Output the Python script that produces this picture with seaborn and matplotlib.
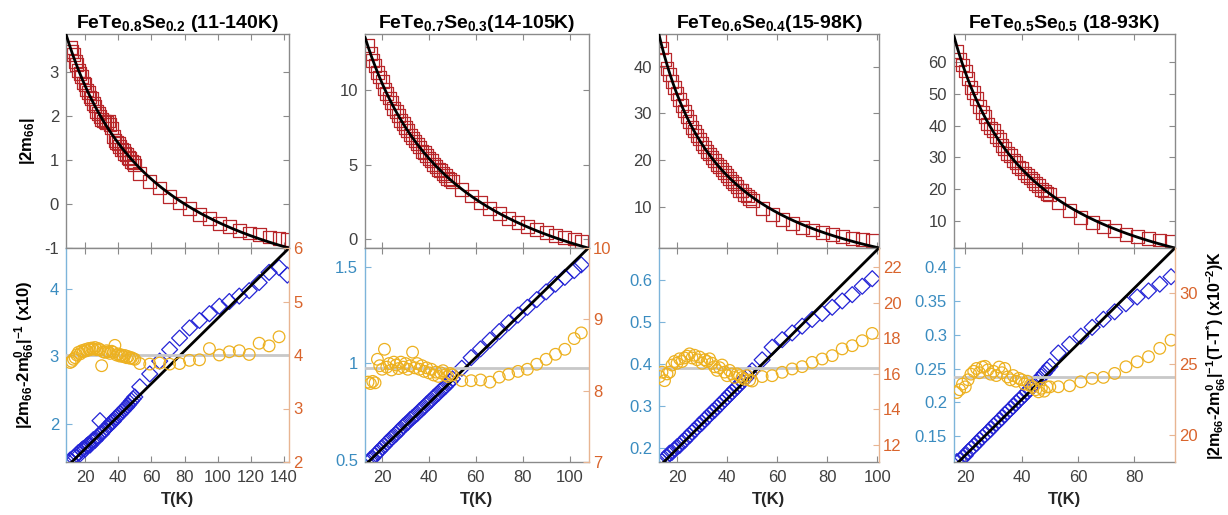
import numpy as np
import pandas as pd
import matplotlib
matplotlib.use("Agg")
import matplotlib.pyplot as plt
from matplotlib.ticker import FuncFormatter
import seaborn as sns

# ------------------------------------------------------------------ data
# Panel 1 : FeTe0.8Se0.2
T_1 = [11, 12, 13, 14, 15, 16, 17, 18, 19, 20, 21, 22, 23, 24, 25, 26, 27, 28, 29, 30,
       31, 32, 33, 34, 35, 36, 37, 38, 39, 40, 41, 42, 43, 44, 45, 46, 47, 48, 49, 50,
       53, 59, 65, 71, 77, 83, 89, 95, 101, 107, 113, 119, 125, 131, 137, 142]
m66_1 = [3.55, 3.45, 3.38, 3.22, 3.15, 3.02, 2.95, 2.88, 2.74, 2.70, 2.58, 2.52, 2.42, 2.38,
         2.27, 2.22, 2.10, 2.05, 1.98, 1.92, 1.88, 1.86, 1.84, 1.88, 1.80, 1.72, 1.52, 1.44,
         1.40, 1.36, 1.30, 1.24, 1.22, 1.15, 1.12, 1.05, 1.03, 0.96, 0.93, 0.88,
         0.68, 0.50, 0.36, 0.16, 0.02, -0.10, -0.24, -0.33, -0.45, -0.52, -0.60, -0.66,
         -0.70, -0.75, -0.78, -0.81]
inv_1 = [1.47, 1.44, 1.50, 1.52, 1.55, 1.58, 1.56, 1.62, 1.64, 1.63, 1.68, 1.70, 1.69, 1.74,
         1.77, 1.76, 1.80, 1.83, 2.05, 1.86, 1.90, 1.92, 1.95, 1.97, 2.00, 2.03, 2.04, 2.08,
         2.10, 2.13, 2.15, 2.18, 2.20, 2.23, 2.25, 2.28, 2.31, 2.34, 2.37, 2.40,
         2.55, 2.74, 2.93, 3.10, 3.27, 3.42, 3.53, 3.63, 3.74, 3.81, 3.89, 3.97, 4.09,
         4.24, 4.31, 4.20]
ratio_1 = [3.86, 3.88, 3.92, 3.95, 4.00, 4.05, 4.02, 4.08, 4.06, 4.10, 4.08, 4.12, 4.10, 4.13,
           4.11, 4.14, 4.10, 4.12, 4.10, 3.80, 4.06, 4.05, 4.08, 4.06, 4.03, 4.07, 4.05, 4.18,
           4.00, 4.02, 3.98, 4.00, 3.97, 3.99, 3.95, 3.97, 3.94, 3.95, 3.93, 3.92,
           3.84, 3.83, 3.85, 3.83, 3.84, 3.90, 3.91, 4.12, 4.00, 4.06, 4.08, 4.01, 4.22,
           4.17, 4.34, np.nan]

# Panel 2 : FeTe0.7Se0.3
T_2 = [14, 15, 16, 17, 18, 19, 20, 21, 22, 23, 24, 25, 26, 27, 28, 29, 30, 31, 32, 33,
       34, 35, 36, 37, 38, 39, 40, 41, 42, 43, 44, 45, 46, 47, 48, 49, 50,
       54, 58, 62, 66, 70, 74, 78, 82, 86, 90, 94, 98, 102, 105]
m66_2 = [13.0, 12.5, 12.0, 11.7, 11.2, 10.9, 10.6, 10.1, 9.8, 9.5, 9.2, 8.8, 8.6, 8.3, 8.0,
         7.8, 7.5, 7.3, 7.0, 6.8, 6.6, 6.4, 6.2, 5.9, 5.8, 5.6, 5.4, 5.3, 5.0, 4.9, 4.7, 4.6,
         4.4, 4.3, 4.1, 4.0, 3.85,
         3.35, 2.9, 2.45, 2.05, 1.7, 1.4, 1.1, 0.85, 0.62, 0.42, 0.25, 0.12, 0.0, -0.15]
inv_2 = [0.49, 0.505, 0.51, 0.525, 0.54, 0.55, 0.565, 0.575, 0.59, 0.60, 0.615, 0.625, 0.635,
         0.65, 0.66, 0.675, 0.685, 0.695, 0.71, 0.72, 0.73, 0.74, 0.755, 0.765, 0.775, 0.79,
         0.80, 0.81, 0.825, 0.835, 0.845, 0.86, 0.87, 0.88, 0.895, 0.905, 0.92,
         0.975, 1.03, 1.075, 1.12, 1.165, 1.21, 1.25, 1.29, 1.33, 1.37, 1.41, 1.445, 1.48, 1.51]
ratio_2 = [8.12, 8.10, 8.13, 8.11, 8.44, 8.35, 8.30, 8.58, 8.33, 8.38, 8.29, 8.40, 8.36, 8.31,
           8.40, 8.33, 8.38, 8.30, 8.35, 8.54, 8.32, 8.38, 8.30, 8.35, 8.27, 8.32, 8.25, 8.30,
           8.22, 8.26, 8.20, 8.25, 8.28, 8.22, 8.20, 8.24, 8.22,
           8.14, 8.14, 8.15, 8.12, 8.19, 8.23, 8.27, 8.30, 8.37, 8.44, 8.51, 8.58, 8.73, 8.81]

# Panel 3 : FeTe0.6Se0.4
T_3 = [13, 14, 15, 16, 17, 18, 19, 20, 21, 22, 23, 24, 25, 26, 27, 28, 29, 30, 31, 32,
       33, 34, 35, 36, 37, 38, 39, 40, 41, 42, 43, 44, 45, 46, 47, 48, 49, 50,
       54, 58, 62, 66, 70, 74, 78, 82, 86, 90, 94, 98]
m66_3 = [45.6, 44.0, 41.5, 39.6, 38.3, 36.9, 35.6, 34.3, 33.0, 31.6, 30.5, 29.4, 28.3, 27.0,
         26.2, 25.3, 24.5, 23.6, 22.8, 21.9, 21.3, 20.6, 19.9, 19.1, 18.6, 17.9, 17.3, 16.6,
         16.1, 15.4, 15.0, 14.3, 13.5, 13.4, 12.6, 12.3, 11.8, 11.3,
         9.6, 8.4, 7.2, 6.4, 5.6, 5.0, 4.5, 4.0, 3.6, 3.2, 2.9, 2.7]
inv_3 = [0.165, 0.168, 0.175, 0.180, 0.188, 0.190, 0.197, 0.203, 0.206, 0.214, 0.218, 0.226,
         0.230, 0.238, 0.243, 0.249, 0.256, 0.260, 0.268, 0.273, 0.279, 0.286, 0.290, 0.297,
         0.303, 0.309, 0.315, 0.321, 0.328, 0.333, 0.340, 0.345, 0.352, 0.358, 0.364, 0.370,
         0.377, 0.384,
         0.410, 0.440, 0.458, 0.474, 0.490, 0.506, 0.520, 0.535, 0.550, 0.565, 0.585, 0.603]
ratio_3 = [15.85, 16.1, 15.62, 16.0, 16.1, 16.5, 16.7, 16.6, 16.85, 16.7, 16.9, 17.0, 17.13,
           16.9, 17.05, 16.8, 16.95, 16.6, 16.8, 16.7, 16.85, 16.6, 16.4, 16.2, 16.35, 16.5,
           16.1, 15.9, 16.2, 16.0, 15.8, 16.0, 15.9, 15.8, 15.7, 15.9, 15.65, 15.6,
           15.85, 15.9, 16.09, 16.28, 16.41, 16.65, 16.84, 17.03, 17.41, 17.59, 17.87, 18.28]

# Panel 4 : FeTe0.5Se0.5
T_4 = [17, 18, 19, 20, 21, 22, 23, 24, 25, 26, 27, 28, 29, 30, 31, 32, 33, 34, 35, 36,
       37, 38, 39, 40, 41, 42, 43, 44, 45, 46, 47, 48, 49, 50,
       53, 57, 61, 65, 69, 73, 77, 81, 85, 89, 93]
m66_4 = [63.5, 61.0, 59.2, 57.3, 55.0, 52.0, 50.4, 48.5, 46.0, 44.2, 42.9, 40.6, 39.3, 38.4,
         36.6, 35.6, 33.8, 32.9, 31.2, 30.6, 29.0, 28.5, 27.0, 26.6, 25.1, 24.4, 23.5, 22.6,
         21.7, 21.2, 20.0, 19.4, 18.6, 18.2,
         15.6, 13.2, 11.0, 9.5, 8.2, 6.9, 5.7, 5.0, 4.3, 3.9, 3.6]
inv_4 = [0.112, 0.114, 0.118, 0.121, 0.127, 0.131, 0.135, 0.139, 0.144, 0.148, 0.152, 0.156,
         0.160, 0.165, 0.169, 0.173, 0.177, 0.182, 0.186, 0.190, 0.194, 0.199, 0.203, 0.207,
         0.211, 0.216, 0.220, 0.224, 0.229, 0.233, 0.238, 0.243, 0.248, 0.253,
         0.273, 0.286, 0.298, 0.311, 0.323, 0.334, 0.346, 0.356, 0.365, 0.375, 0.386]
ratio_4 = [23.0, 23.2, 23.6, 23.4, 23.9, 24.3, 24.5, 24.7, 24.4, 24.8, 24.85, 24.6, 24.3, 24.5,
           24.2, 24.8, 24.4, 24.7, 24.1, 23.9, 24.2, 23.8, 24.0, 23.9, 23.6, 23.8, 23.5, 23.4,
           23.2, 23.05, 23.3, 23.1, 23.4, 23.4,
           23.41, 23.48, 23.76, 24.0, 24.07, 24.35, 24.82, 25.17, 25.53, 26.12, 26.7]

# Curie-Weiss fit parameters: top  m0 + K/(T - Tstar), bottom  slope*(T - Tstar_inv)
fit_Tstar = [-47.8, -27.5, -13.5, -12.0]
fit_K = [387.0, 811.0, 1561.0, 2542.0]
fit_m0 = [-3.03, -6.59, -12.5, -22.5]
fit_slope = [0.0241, 0.01178, 0.00592, 0.00413]
fit_Tstar_inv = [-47.8, -27.5, -13.5, -9.4]
mean_ratio = [4.0, 8.32, 16.34, 24.11]

titles = [r"FeTe$_{\mathbf{0.8}}$Se$_{\mathbf{0.2}}$ (11-140K)",
          r"FeTe$_{\mathbf{0.7}}$Se$_{\mathbf{0.3}}$(14-105K)",
          r"FeTe$_{\mathbf{0.6}}$Se$_{\mathbf{0.4}}$(15-98K)",
          r"FeTe$_{\mathbf{0.5}}$Se$_{\mathbf{0.5}}$ (18-93K)"]

# axis settings
xlims = [(8.5, 143), (12.7, 108.3), (12.8, 100.7), (16.0, 94.4)]
xticks = [[20, 40, 60, 80, 100, 120, 140], [20, 40, 60, 80, 100], [20, 40, 60, 80, 100],
          [20, 40, 60, 80]]
top_ylims = [(-1, 3.85), (-0.6, 13.8), (1.15, 47), (1.4, 69)]
top_yticks = [[-1, 0, 1, 2, 3], [0, 5, 10], [10, 20, 30, 40], [10, 20, 30, 40, 50, 60]]
bl_ylims = [(1.44, 4.6), (0.49, 1.597), (0.167, 0.676), (0.1115, 0.4286)]
bl_yticks = [[2, 3, 4], [0.5, 1, 1.5], [0.2, 0.3, 0.4, 0.5, 0.6],
             [0.15, 0.2, 0.25, 0.3, 0.35, 0.4]]
br_ylims = [(2, 6), (7, 10), (11.04, 23.09), (18.1, 33.2)]
br_yticks = [[2, 3, 4, 5, 6], [7, 8, 9, 10], [12, 14, 16, 18, 20, 22], [20, 25, 30]]

Ts = [T_1, T_2, T_3, T_4]
m66s = [m66_1, m66_2, m66_3, m66_4]
invs = [inv_1, inv_2, inv_3, inv_4]
ratios = [ratio_1, ratio_2, ratio_3, ratio_4]

# ------------------------------------------------------------------ style
sns.set_theme(style="white")
plt.rcParams.update({
    "font.family": ["Liberation Sans", "DejaVu Sans"],
    "mathtext.fontset": "custom",
    "mathtext.rm": "Liberation Sans",
    "mathtext.bf": "Liberation Sans:bold",
    "mathtext.it": "Liberation Sans:italic",
    "mathtext.sf": "Liberation Sans",
    "axes.unicode_minus": False,
})

RED = "#b8262a"
BLUE = "#2424d6"
YEL = "#EDB120"
LBLUE_TXT = "#3a8cc0"
LBLUE_SP = "#7db4da"
ORG_TXT = "#d9642c"
ORG_SP = "#e8b592"
GRAY_SP = "#8a8a8a"
TXT = "#404040"
TICK_FS = 12
LAB_FS = 12

fmt = FuncFormatter(lambda v, p: f"{v:g}")

W, H = 1228, 515
fig = plt.figure(figsize=(W / 100, H / 100), dpi=100)


def rect(x0, x1, y0, y1):
    return [x0 / W, 1 - y1 / H, (x1 - x0) / W, (y1 - y0) / H]


XPIX = [(66, 289), (365, 589), (659, 879), (954, 1175)]
TOP = (34, 248)
BOT = (248, 462)

for i in range(4):
    x0, x1 = XPIX[i]
    axt = fig.add_axes(rect(x0, x1, *TOP))
    axb = fig.add_axes(rect(x0, x1, *BOT))
    ax2 = axb.twinx()

    df = pd.DataFrame({"T": Ts[i], "m66": m66s[i], "inv": invs[i], "ratio": ratios[i]})
    Tf = np.linspace(xlims[i][0], xlims[i][1], 400)
    fit_top = fit_m0[i] + fit_K[i] / (Tf - fit_Tstar[i])
    fit_bot = fit_slope[i] * (Tf - fit_Tstar_inv[i])

    # --- top panel
    sns.scatterplot(data=df, x="T", y="m66", marker="s", s=85, color=RED,
                    facecolor="none", edgecolor=RED, linewidth=0.9, ax=axt, zorder=2)
    sns.lineplot(x=Tf, y=fit_top, color="black", linewidth=2.0, estimator=None,
                 sort=False, ax=axt, zorder=3)

    # --- bottom panel (left axis)
    sns.scatterplot(data=df, x="T", y="inv", marker="D", s=66, color=BLUE,
                    facecolor="none", edgecolor=BLUE, linewidth=0.9, ax=axb, zorder=2)
    sns.lineplot(x=Tf, y=fit_bot, color="black", linewidth=2.0, estimator=None,
                 sort=False, ax=axb, zorder=3)

    # --- bottom panel (right axis)
    ax2.axhline(mean_ratio[i], color="#c8c8c8", linewidth=2.0, zorder=1)
    sns.scatterplot(data=df, x="T", y="ratio", marker="o", s=70, color=YEL,
                    facecolor="none", edgecolor=YEL, linewidth=0.9, ax=ax2, zorder=2)

    # limits / ticks
    for ax in (axt, axb):
        ax.set_xlim(*xlims[i])
        ax.set_xticks(xticks[i])
        ax.xaxis.set_major_formatter(fmt)
        ax.set_xlabel("")
        ax.set_ylabel("")
        ax.set_facecolor("white")
    ax2.set_xlim(*xlims[i])
    ax2.set_ylabel("")

    axt.set_ylim(*top_ylims[i])
    axt.set_yticks(top_yticks[i])
    axt.yaxis.set_major_formatter(fmt)
    axb.set_ylim(*bl_ylims[i])
    axb.set_yticks(bl_yticks[i])
    axb.yaxis.set_major_formatter(fmt)
    ax2.set_ylim(*br_ylims[i])
    ax2.set_yticks(br_yticks[i])
    ax2.yaxis.set_major_formatter(fmt)

    # top panel styling
    for s in axt.spines.values():
        s.set_color(GRAY_SP)
        s.set_linewidth(1.0)
    axt.tick_params(axis="both", direction="in", length=4, width=0.8, color=GRAY_SP,
                    top=True, right=True, bottom=True, left=True,
                    labelbottom=False, labelsize=TICK_FS, labelcolor=TXT)
    axt.tick_params(axis="y", pad=5)

    # bottom panel styling
    axb.spines["top"].set_color(GRAY_SP)
    axb.spines["bottom"].set_color(GRAY_SP)
    axb.spines["left"].set_color(LBLUE_SP)
    axb.spines["right"].set_visible(False)
    for s in axb.spines.values():
        s.set_linewidth(1.0)
    axb.tick_params(axis="x", direction="in", length=4, width=0.8, color=GRAY_SP,
                    top=True, bottom=True, labelsize=TICK_FS, labelcolor=TXT, pad=6)
    axb.tick_params(axis="y", direction="in", length=4, width=0.8, color=LBLUE_SP,
                    left=True, right=False, labelsize=TICK_FS, labelcolor=LBLUE_TXT, pad=5)
    for k in ("left", "top", "bottom"):
        ax2.spines[k].set_visible(False)
    ax2.spines["right"].set_color(ORG_SP)
    ax2.spines["right"].set_linewidth(1.0)
    ax2.tick_params(axis="y", direction="in", length=4, width=0.8, color=ORG_SP,
                    labelsize=TICK_FS, labelcolor=ORG_TXT, pad=3)

    axt.set_title(titles[i], fontsize=14, fontweight="bold", color="black", pad=4)
    axb.set_xlabel("T(K)", fontsize=LAB_FS, fontweight="bold", color="#262626")
    axb.xaxis.set_label_coords(0.5, -0.14)

    if i == 0:
        axt.set_ylabel(r"|2m$_{\mathbf{66}}$|", fontsize=LAB_FS, fontweight="bold",
                       color="black")
        axt.yaxis.set_label_coords(-0.13, 0.5)
        axb.set_ylabel(r"|2m$_{\mathbf{66}}$-2m$^{\mathbf{0}}_{\mathbf{66}}$|$^{\mathbf{-1}}$ (x10)",
                       fontsize=LAB_FS, fontweight="bold", color="black")
        axb.yaxis.set_label_coords(-0.13, 0.5)
    if i == 3:
        ax2.set_ylabel(r"|2m$_{\mathbf{66}}$-2m$^{\mathbf{0}}_{\mathbf{66}}$|$^{\mathbf{-1}}$"
                       r"(T-T$^{\mathbf{*}}$) (x10$^{\mathbf{-2}}$)K",
                       fontsize=11.5, fontweight="bold", color="black")
        ax2.yaxis.set_label_coords(1.135, 0.5)

fig.savefig("out.png", dpi=100)
